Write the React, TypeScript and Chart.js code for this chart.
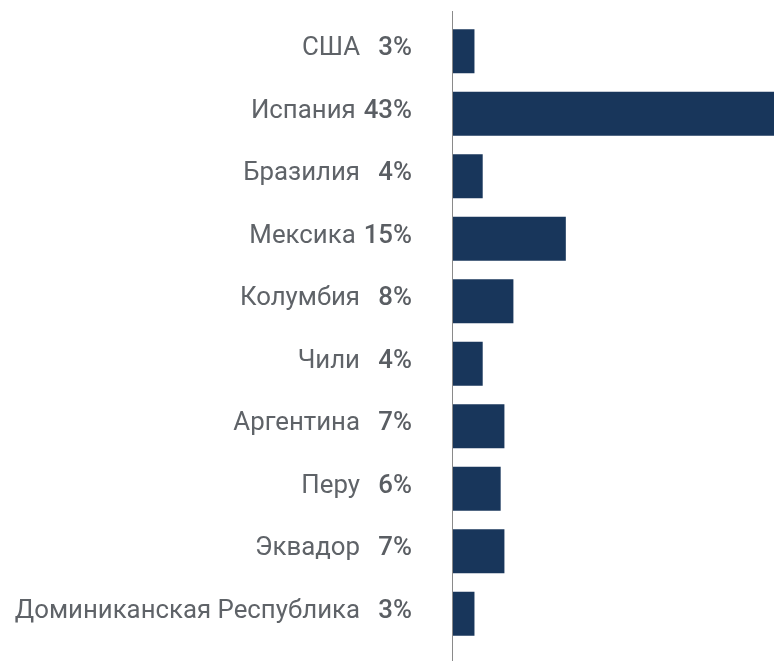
import React, { useEffect, useRef } from "react";
import { Chart, registerables } from "chart.js";

Chart.register(...registerables);

const categories: string[] = [
  "США",
  "Испания",
  "Бразилия",
  "Мексика",
  "Колумбия",
  "Чили",
  "Аргентина",
  "Перу",
  "Эквадор",
  "Доминиканская Республика",
];
const pctLabels: string[] = ["3%", "43%", "4%", "15%", "8%", "4%", "7%", "6%", "7%", "3%"];
const values: number[] = [3.0, 43, 4.1, 15.2, 8.2, 4.1, 7.0, 6.5, 7.0, 3.0];

const BAR_COLOR = "#18365b";
const TEXT_COLOR = "#5f6368";
const PCT_COLOR = "#5a5e63";
const FONT = "Roboto, 'Noto Sans', sans-serif";
const SIZE = 25.8;

const labelPlugin = {
  id: "labelPlugin",
  afterDraw(chart: any) {
    const ctx = chart.ctx as CanvasRenderingContext2D;
    const yScale = chart.scales.y;
    const area = chart.chartArea;
    ctx.save();
    // vertical axis line
    ctx.strokeStyle = "#8a8a8a";
    ctx.lineWidth = 1;
    ctx.beginPath();
    ctx.moveTo(area.left + 0.5, 11);
    ctx.lineTo(area.left + 0.5, chart.height);
    ctx.stroke();
    ctx.textBaseline = "alphabetic";
    ctx.textAlign = "right";
    const pctRight = area.left - 40;
    categories.forEach((name, i) => {
      const y = yScale.getPixelForValue(i) + 4;
      ctx.font = `500 ${SIZE}px ${FONT}`;
      ctx.fillStyle = PCT_COLOR;
      ctx.fillText(pctLabels[i], pctRight, y);
      const pctLeft = pctRight - ctx.measureText(pctLabels[i]).width;
      ctx.font = `400 ${SIZE}px ${FONT}`;
      ctx.fillStyle = TEXT_COLOR;
      ctx.fillText(name, Math.min(area.left - 92, pctLeft - 8), y);
    });
    ctx.restore();
  },
};

export default function App() {
  const canvasRef = useRef<HTMLCanvasElement | null>(null);

  useEffect(() => {
    if (!canvasRef.current) return;
    const chart = new Chart(canvasRef.current, {
      type: "bar",
      data: {
        labels: categories,
        datasets: [
          {
            data: values,
            backgroundColor: BAR_COLOR,
            borderWidth: 0,
            barPercentage: 0.704,
            categoryPercentage: 1,
          },
        ],
      },
      options: {
        indexAxis: "y",
        animation: false,
        responsive: true,
        maintainAspectRatio: false,
        layout: { padding: { left: 452, right: 0, top: 20, bottom: 16 } },
        plugins: {
          legend: { display: false },
          tooltip: { enabled: false },
        },
        scales: {
          x: { display: false, min: 0, max: 43 },
          y: { display: false },
        },
      },
      plugins: [labelPlugin],
    });
    return () => chart.destroy();
  }, []);

  return (
    <div style={{ position: "absolute", left: 0, top: 0, width: 774, height: 661, background: "#fff" }}>
      <canvas ref={canvasRef} />
    </div>
  );
}
